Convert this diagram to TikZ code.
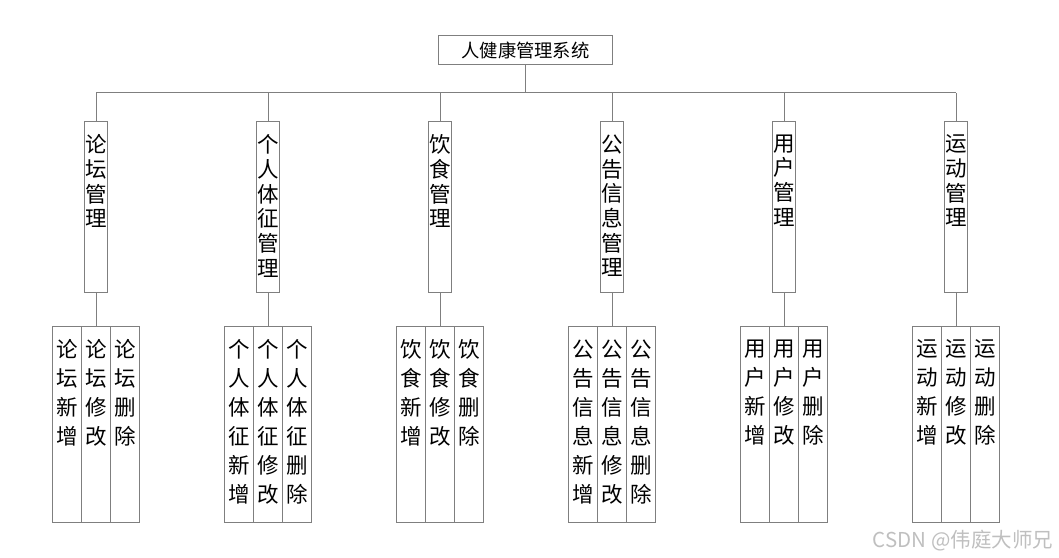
\documentclass[tikz,border=0pt]{standalone}
\usepackage{fontspec}
\setmainfont{Noto Sans CJK SC}
\usetikzlibrary{positioning}
\definecolor{linegray}{HTML}{7F7F7F}

% stacked characters, set from the top of the box
\newcommand{\vcol}[2]{\parbox[c][#1][t]{22pt}{\centering\vspace*{13pt}#2}}

\begin{document}
\begin{tikzpicture}[x=1pt,y=-1pt,
  every node/.style={outer sep=0pt, inner sep=0pt},
  grayline/.style={draw=linegray, line width=0.8pt},
  sysbox/.style={grayline, minimum width=174.4pt, minimum height=28.6pt,
    font=\fontsize{18.3}{22}\selectfont},
  modbox/.style={grayline, anchor=north, minimum width=23pt, minimum height=170.3pt,
    font=\fontsize{21.5}{24.7}\selectfont},
  subbox/.style={grayline, anchor=north, minimum width=28.8pt, minimum height=195.3pt,
    font=\fontsize{21.5}{29}\selectfont},
  wmtext/.style={text=gray!50, font=\fontsize{20.5}{24}\selectfont}]
  \useasboundingbox (0,0) rectangle (1059,557);
  % Root
  \node[sysbox] (sys) at (525.5,50) {人健康管理系统};
  \coordinate (bus) at (0,92.7);
  % Modules and their operations
  \foreach \p [count=\i] in {{论\\坛}, {个\\人\\体\\征}, {饮\\食}, {公\\告\\信\\息}, {用\\户}, {运\\动}} {
    \node[modbox] (m\i) at ({96+172*(\i-1)},121.7) {\vcol{170.3pt}{\p\\管\\理}};
    \node[subbox] (m\i-edit) at ({96+172*(\i-1)},326.7) {\vcol{195.3pt}{\p\\修\\改}};
    \node[subbox, left=0pt of m\i-edit] (m\i-add) {\vcol{195.3pt}{\p\\新\\增}};
    \node[subbox, right=0pt of m\i-edit] (m\i-del) {\vcol{195.3pt}{\p\\删\\除}};
    \draw[grayline] (m\i.north) -- (m\i.north |- bus);
    \draw[grayline] (m\i.south) -- (m\i-edit.north);
  }
  % Bus
  \draw[grayline] (sys.south) -- (sys.south |- bus);
  \draw[grayline] (m1.north |- bus) -- (m6.north |- bus);
  % Watermark
  \node[wmtext, anchor=east] (wm) at (1053,541) {CSDN @伟庭大师兄};
\end{tikzpicture}
\end{document}
